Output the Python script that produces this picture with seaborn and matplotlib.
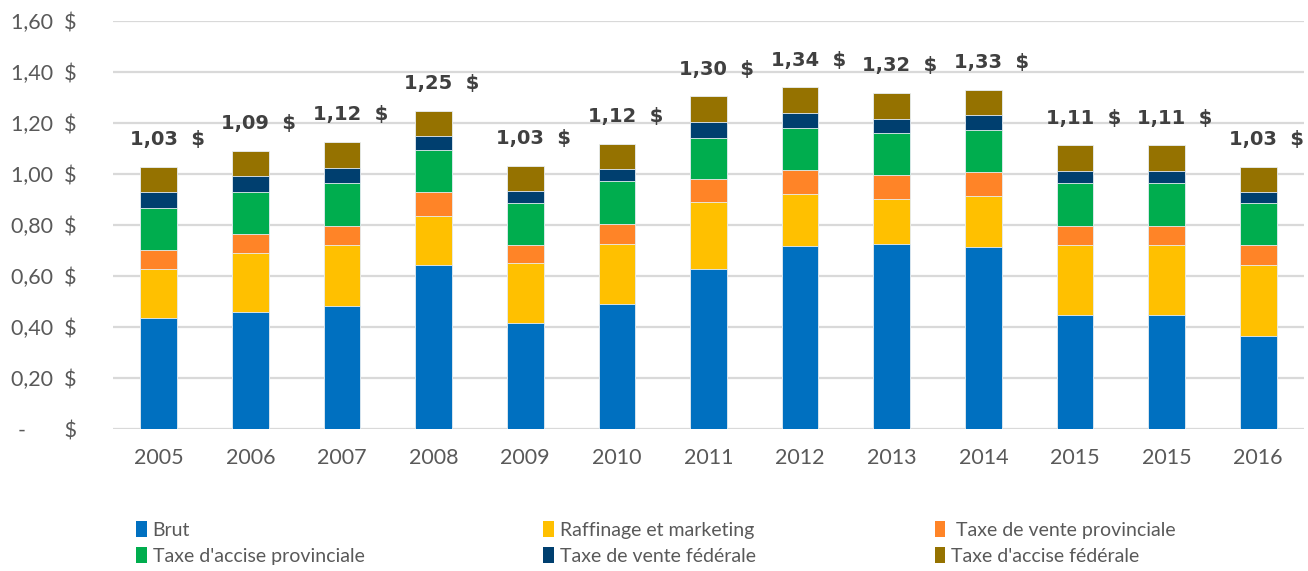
import matplotlib
matplotlib.use("Agg")
import matplotlib.pyplot as plt
from matplotlib.patches import Patch
from matplotlib.ticker import FuncFormatter
import numpy as np
import pandas as pd
import seaborn as sns

# ---- data ----
years = ["2005", "2006", "2007", "2008", "2009", "2010", "2011",
         "2012", "2013", "2014", "2015", "2015", "2016"]
brut = [0.434, 0.460, 0.482, 0.644, 0.417, 0.490, 0.627,
        0.718, 0.723, 0.714, 0.448, 0.448, 0.364]
raffinage = [0.191, 0.228, 0.237, 0.192, 0.232, 0.235, 0.262,
             0.201, 0.179, 0.197, 0.271, 0.271, 0.280]
vente_prov = [0.076, 0.074, 0.078, 0.092, 0.070, 0.079, 0.091,
              0.096, 0.092, 0.096, 0.078, 0.078, 0.075]
accise_prov = [0.165, 0.166, 0.166, 0.166, 0.166, 0.166, 0.161,
               0.165, 0.164, 0.166, 0.166, 0.166, 0.166]
vente_fed = [0.062, 0.061, 0.061, 0.053, 0.048, 0.048, 0.062,
             0.058, 0.058, 0.056, 0.048, 0.048, 0.043]
accise_fed = [0.099, 0.099, 0.099, 0.099, 0.099, 0.100, 0.100,
              0.100, 0.100, 0.100, 0.100, 0.100, 0.100]

series_names = ["Brut", "Raffinage et marketing", " Taxe de vente provinciale",
                "Taxe d'accise provinciale", "Taxe de vente fédérale",
                "Taxe d'accise fédérale"]
series_values = [brut, raffinage, vente_prov, accise_prov, vente_fed, accise_fed]
colors = ["#0070C0", "#FFC000", "#FF8427", "#00AD4E", "#003F6F", "#957200"]

# ---- build table ----
df = pd.DataFrame({name: vals for name, vals in zip(series_names, series_values)})
df["pos"] = np.arange(len(years))
cum = df[series_names].cumsum(axis=1)
totals = cum[series_names[-1]].values

sns.set_theme(style="white")
plt.rcParams["font.family"] = ["Lato", "DejaVu Sans"]

fig = plt.figure(figsize=(13.08, 5.71), dpi=100)
ax = fig.add_axes([113 / 1308, 1 - 429 / 571, (1304 - 113) / 1308, (429 - 20.5) / 571])

# draw stacked bars: tallest cumulative first
for i in range(len(series_names) - 1, -1, -1):
    plot_df = pd.DataFrame({"pos": df["pos"], "val": cum[series_names[i]]})
    sns.barplot(data=plot_df, x="pos", y="val", color=colors[i], width=0.4,
                saturation=1, ax=ax, zorder=3, linewidth=0.6, edgecolor="#e8eef4")

ax.set_ylim(0, 1.6)
ax.set_xlim(-0.5, len(years) - 0.5)
ax.set_yticks(np.arange(0, 1.61, 0.2))


def fmt(v, _):
    if abs(v) < 1e-9:
        return "-       $"
    return f"{v:.2f}".replace(".", ",") + "  $"


ax.yaxis.set_major_formatter(FuncFormatter(fmt))
ax.set_xticks(range(len(years)))
ax.set_xticklabels(years)
ax.tick_params(axis="both", length=0, labelsize=15.5, labelcolor="#595959")
ax.tick_params(axis="x", pad=14)
ax.tick_params(axis="y", pad=26)
ax.grid(axis="y", color="#d9d9d9", linewidth=1.6, zorder=0)
ax.set_axisbelow(True)
for s in ax.spines.values():
    s.set_visible(False)
ax.set_xlabel("")
ax.set_ylabel("")

# total labels
for p, t in zip(df["pos"], totals):
    lbl = f"{round(t, 2):.2f}".replace(".", ",") + "  $"
    ax.annotate(lbl, xy=(p, t + 0.107), xytext=(6, 0), textcoords="offset points",
                ha="center", va="center", fontsize=14, fontweight="bold",
                color="#404040", family="DejaVu Sans", zorder=5)

# legend, row-major ordering in 3 columns
handles = [Patch(facecolor=c, edgecolor="none") for c in colors]
order = [0, 3, 1, 4, 2, 5]
fig.legend([handles[i] for i in order], [series_names[i] for i in order],
           ncol=3, loc="upper left", bbox_to_anchor=(136 / 1308, 1 - 521 / 571),
           frameon=False, fontsize=14, labelcolor="#595959",
           handlelength=0.55, handleheight=0.9, handletextpad=0.3,
           columnspacing=9.2, labelspacing=0.42, borderaxespad=0, borderpad=0)

fig.savefig("out.png", dpi=100)
